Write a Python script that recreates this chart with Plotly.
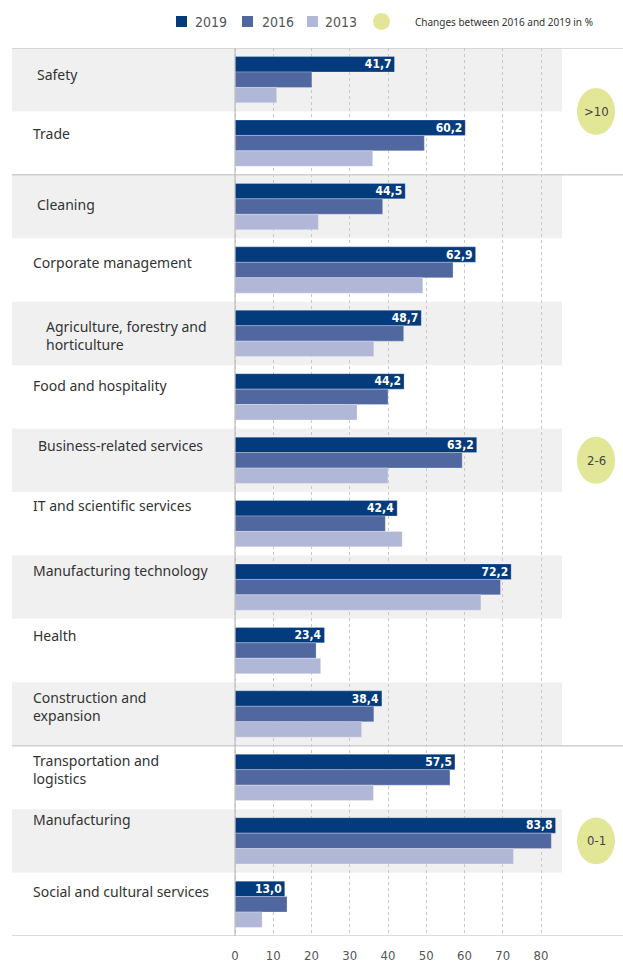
import plotly.graph_objects as go

categories = [
    "Safety", "Trade", "Cleaning", "Corporate management",
    "Agriculture, forestry and<br>horticulture", "Food and hospitality",
    "Business-related services", "IT and scientific services",
    "Manufacturing technology", "Health", "Construction and<br>expansion",
    "Transportation and<br>logistics", "Manufacturing", "Social and cultural services",
]
v2019 = [41.7, 60.2, 44.5, 62.9, 48.7, 44.2, 63.2, 42.4, 72.2, 23.4, 38.4, 57.5, 83.8, 13.0]
v2016 = [20.1, 49.5, 38.6, 57.0, 44.1, 40.0, 59.4, 39.3, 69.4, 21.2, 36.3, 56.2, 82.7, 13.6]
v2013 = [10.9, 36.0, 21.8, 49.1, 36.3, 31.9, 40.0, 43.7, 64.3, 22.4, 33.1, 36.2, 72.8, 7.1]
years = ["2019", "2016", "2013"]
change_groups = [">10", "2-6", "0-1"]
change_rows = [0.5, 6.0, 12.0]

colors = ["#033b7d", "#5167a0", "#b1b8d7"]
band = "#f0f0f0"
line_col = "#cfcfcf"
bubble = "#e2e697"
narrow = "DejaVu Sans Condensed, Liberation Sans Narrow, Arial Narrow"
sans = "Noto Sans, Open Sans, sans-serif"

# px -> data: 0 at 235px, 3.825 px per unit
PX = 3.825
def dx(px):
    return (px - 235) / PX

def py(px):
    # px from top of page -> paper y (plot area 48..936)
    return (936 - px) / 888

fig = go.Figure()
for name, vals, col in zip(years, [v2019, v2016, v2013], colors):
    fig.add_trace(go.Bar(
        y=list(range(len(categories))), x=vals, orientation="h", name=name,
        marker=dict(color=col, line=dict(color="rgba(255,255,255,0.5)", width=0.5)),
        text=[f"{v:.1f}".replace(".", ",") for v in vals] if name == "2019" else None,
        textposition="inside", insidetextanchor="end", constraintext="none",
        textfont=dict(color="white", size=12, family=narrow, weight="bold"),
        hoverinfo="skip",
    ))

shapes = []
# alternating grey bands
for i in range(0, len(categories), 2):
    shapes.append(dict(type="rect", xref="x", yref="y", x0=dx(12), x1=dx(562),
                       y0=i - 0.5, y1=i + 0.5, fillcolor=band, line_width=0, layer="below"))
# horizontal separators
for yy in [-0.5, 1.5, 10.5, 13.5]:
    shapes.append(dict(type="line", xref="x", yref="y", x0=dx(12), x1=dx(623),
                       y0=yy, y1=yy, line=dict(color=line_col, width=1.5)))
# axis line at 0
shapes.append(dict(type="line", xref="x", yref="y", x0=0, x1=0, y0=-0.5, y1=13.5,
                   line=dict(color="#bdbdbd", width=1.2)))
# change bubbles
for yy in change_rows:
    shapes.append(dict(type="circle", xref="x", yref="y", x0=dx(577), x1=dx(615),
                       y0=yy - 0.37, y1=yy + 0.37, fillcolor=bubble, line_width=0))

annotations = []
for yy, txt in zip(change_rows, change_groups):
    annotations.append(dict(x=dx(596), y=yy, xref="x", yref="y", text=txt, showarrow=False,
                            font=dict(size=13, color="#444", family=narrow)))

# category labels (the source places them a bit irregularly)
indent = [35, 31, 35, 31, 44, 31, 36, 31, 31, 31, 31, 31, 31, 31]
lift = [5, 10, 2, 8, -2, 11, 15, 18, 17, 15, 8, 8, 21, 13]
for i, lab in enumerate(categories):
    annotations.append(dict(x=indent[i] / 623, y=i, xref="paper", yref="y", text=lab,
                            showarrow=False, xanchor="left", align="left", yshift=lift[i],
                            font=dict(size=14, color="#333", family=sans)))

# custom legend
lx = [(176, 193), (242, 260), (307, 323)]
for (sx, tx), name, col in zip(lx, years, colors):
    shapes.append(dict(type="rect", xref="x", yref="paper", x0=dx(sx), x1=dx(sx + 11),
                       y0=py(27), y1=py(16), fillcolor=col, line_width=0))
    annotations.append(dict(x=dx(tx), y=py(22), xref="x", yref="paper", text=name,
                            showarrow=False, xanchor="left", yanchor="middle",
                            font=dict(size=14, color="#555", family=narrow)))
shapes.append(dict(type="circle", xref="x", yref="paper", x0=dx(373), x1=dx(390),
                   y0=py(30), y1=py(13), fillcolor=bubble, line_width=0))
annotations.append(dict(x=dx(413), y=py(22), xref="x", yref="paper",
                        text="Changes between 2016 and 2019 in %", showarrow=False,
                        xanchor="left", yanchor="middle",
                        font=dict(size=10, color="#333", family=sans)))

fig.update_layout(
    width=623, height=964, margin=dict(l=0, r=0, t=48, b=28),
    paper_bgcolor="white", plot_bgcolor="white", showlegend=False,
    barmode="group", bargap=0.27, bargroupgap=0,
    shapes=shapes, annotations=annotations,
    xaxis=dict(range=[dx(0), dx(623)], tickvals=list(range(0, 90, 10)), showgrid=True,
               gridcolor="#c8c8c8", griddash="dot", gridwidth=1, zeroline=False,
               ticks="", ticklabelstandoff=10,
               tickfont=dict(size=13, color="#555", family=narrow)),
    yaxis=dict(range=[13.5, -0.5], showticklabels=False, showgrid=False, zeroline=False),
)

fig.write_html("out.html", config={"displayModeBar": False},
               post_script="document.body.style.margin='0px';")
